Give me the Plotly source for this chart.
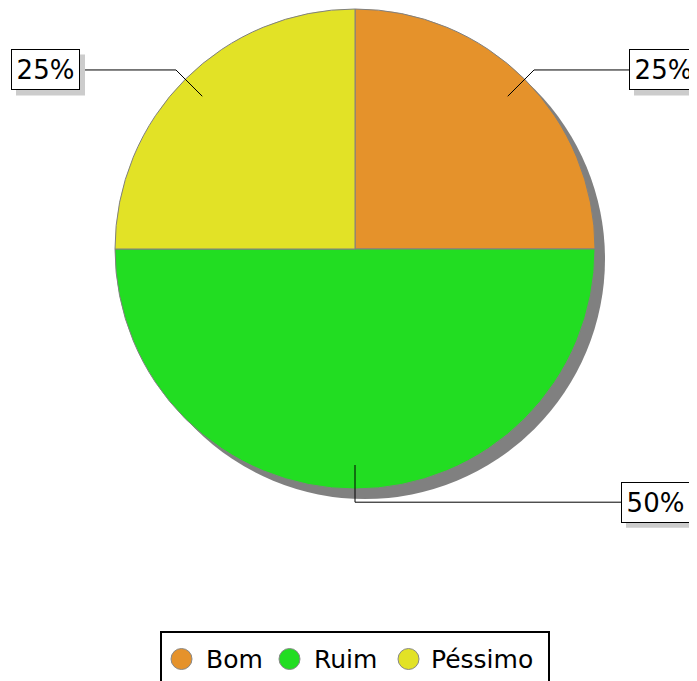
import math
import plotly.graph_objects as go

# ---- data ----
labels = ["Bom", "Ruim", "Péssimo"]
values = [1, 2, 1]
colors = ["#E5922B", "#22DD22", "#E2E226"]

# ---- layout constants (window pixels) ----
WIN_W, WIN_H = 697, 681
OFF = 8  # default page body margin
W, H = WIN_W - OFF, WIN_H - OFF
CX, CY, R = 355, 249, 240
SH = 10  # pie shadow offset
label_line_end = [629, 621, 80]  # x where leader line meets the label box
BOX_W, BOX_H = 69, 41
legend_box = (161, 549, 632)      # left, right, top
legend_sym_x = [181.5, 289.5, 408.5]
legend_txt_x = [204, 312, 429]
legend_y = 659
FONT = "DejaVu Sans"


def px(x):
    return (x - OFF) / W


def py(y):
    return 1 - (y - OFF) / H


fig = go.Figure()

# shadow disc
fig.add_trace(go.Pie(
    values=[1], labels=["_shadow"], marker=dict(colors=["#808080"], line=dict(width=0)),
    textinfo="none", hoverinfo="skip", showlegend=False, sort=False,
    domain=dict(x=[px(CX - R + SH), px(CX + R + SH)], y=[py(CY + R + SH), py(CY - R + SH)]),
))

# main pie
fig.add_trace(go.Pie(
    values=values, labels=labels,
    marker=dict(colors=colors, line=dict(color="#808080", width=1)),
    sort=False, direction="clockwise", rotation=0, textinfo="none", showlegend=False,
    domain=dict(x=[px(CX - R), px(CX + R)], y=[py(CY + R), py(CY - R)]),
))

# labels with leader lines
total = sum(values)
cum = 0.0
shapes = []
annotations = []
for i, v in enumerate(values):
    mid = (cum + v / 2) / total * 2 * math.pi
    cum += v
    dx, dy = math.sin(mid), -math.cos(mid)
    ix, iy = CX + 0.9 * R * dx, CY + 0.9 * R * dy
    ex, ey = CX + 1.055 * R * dx, CY + 1.055 * R * dy
    lx = label_line_end[i]
    right = lx > CX
    shapes.append(dict(
        type="path", xref="paper", yref="paper",
        path=f"M {px(ix)} {py(iy)} L {px(ex)} {py(ey)} L {px(lx)} {py(ey)}",
        line=dict(color="black", width=1),
    ))
    bx0 = lx if right else lx - BOX_W
    shapes.append(dict(
        type="rect", xref="paper", yref="paper",
        x0=px(bx0 + 5), x1=px(bx0 + BOX_W + 5), y0=py(ey + BOX_H / 2 + 5), y1=py(ey - BOX_H / 2 + 5),
        fillcolor="#CCCCCC", line=dict(width=0),
    ))
    txt = f"{v / total * 100:.0f}%"
    annotations.append(dict(
        x=px(lx), y=py(ey), xref="paper", yref="paper", text=txt, showarrow=False,
        xanchor="left" if right else "right", yanchor="middle",
        width=BOX_W - 2, height=BOX_H - 2, borderpad=0, borderwidth=1, align="center", valign="middle",
        bgcolor="white", bordercolor="black",
        font=dict(family=FONT, size=26, color="black"),
    ))

# custom legend (box + circles + names)
lb_l, lb_r, lb_t = legend_box
shapes.append(dict(type="rect", xref="paper", yref="paper",
                   x0=px(lb_l), x1=px(lb_r), y0=py(lb_t), y1=py(WIN_H + 20),
                   line=dict(color="black", width=2), fillcolor="white", layer="below"))
SR = 10.5
for lab, col, sx, tx in zip(labels, colors, legend_sym_x, legend_txt_x):
    shapes.append(dict(type="circle", xref="paper", yref="paper",
                       x0=px(sx - SR), x1=px(sx + SR), y0=py(legend_y + SR), y1=py(legend_y - SR),
                       fillcolor=col, line=dict(color="#888888", width=1)))
    annotations.append(dict(x=px(tx), y=py(legend_y), xref="paper", yref="paper", text=lab,
                            showarrow=False, xanchor="left", yanchor="middle",
                            font=dict(family=FONT, size=25, color="black")))

fig.update_layout(
    width=W, height=H,
    margin=dict(l=0, r=0, t=0, b=0, autoexpand=False),
    paper_bgcolor="white", plot_bgcolor="white",
    shapes=shapes, annotations=annotations,
    showlegend=False,
)

fig.write_html("out.html")
